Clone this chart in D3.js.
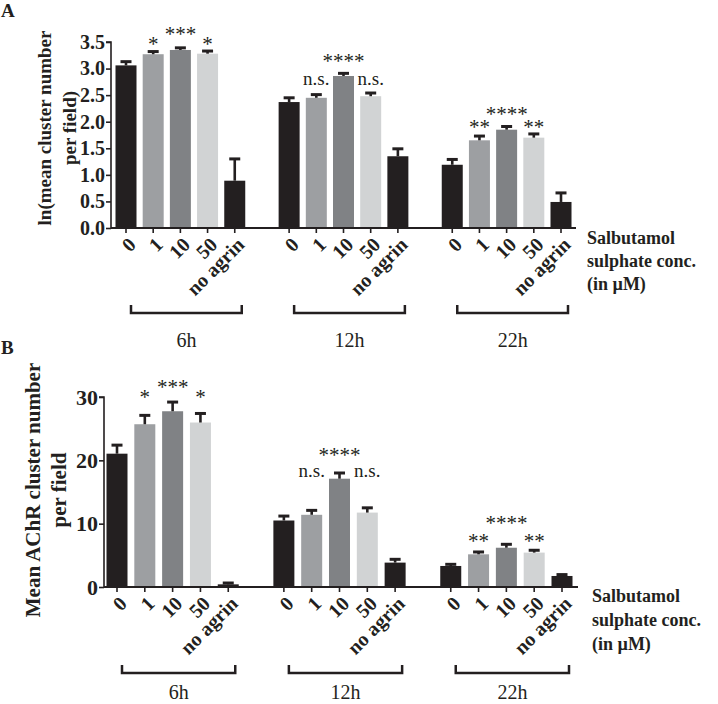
<!DOCTYPE html>
<html><head><meta charset="utf-8">
<script src="https://cdn.jsdelivr.net/npm/d3@7"></script>
<style>body{margin:0;background:#fff}svg{display:block}text{font-family:"Liberation Serif","Times New Roman",serif;fill:#231f20}</style>
</head><body><svg id="c" width="718" height="704"></svg>
<script>
// ---- data ----
const groups = ["6h", "12h", "22h"];
const concentrations = ["0", "1", "10", "50", "no agrin"];
const barColors = ["#231f20", "#9d9fa2", "#808285", "#d1d3d4", "#231f20"];

// Panel A: ln(mean cluster number per field)
const meanA = [3.06, 3.27, 3.35, 3.28, 0.89,  2.37, 2.45, 2.86, 2.48, 1.35,  1.19, 1.65, 1.85, 1.70, 0.49];
const errA  = [0.07, 0.05, 0.04, 0.05, 0.41,  0.08, 0.06, 0.05, 0.06, 0.14,  0.10, 0.08, 0.06, 0.07, 0.17];
const ticksA = [0, 0.5, 1.0, 1.5, 2.0, 2.5, 3.0, 3.5];

// Panel B: mean AChR cluster number per field
const meanB = [21.05, 25.7, 27.75, 25.97, 0.42,  10.5, 11.4, 17.1, 11.75, 3.85,  3.32, 5.16, 6.2, 5.43, 1.74];
const errB  = [1.35, 1.4, 1.45, 1.43, 0.21,  0.7, 0.7, 0.9, 0.75, 0.52,  0.26, 0.37, 0.54, 0.37, 0.22];
const ticksB = [0, 10, 20, 30];

// significance labels (bar index, text, level in data units)
const sigIndex = [1, 2, 3, 6, 7, 8, 11, 12, 13];
const sigText  = ["*", "***", "*", "n.s.", "****", "n.s.", "**", "****", "**"];
const sigLevelA = [3.35, 3.54, 3.35, 2.69, 3.03, 2.69, 1.79, 2.03, 1.79];
const sigLevelB = [29.13, 30.71, 29.13, 17.37, 19.82, 17.37, 6.39, 9.08, 6.39];

const xTitle = ["Salbutamol", "sulphate conc.", "(in \u00b5M)"];
const yTitleA = ["ln(mean cluster number", "per field)"];
const yTitleB = ["Mean AChR cluster number", "per field"];

// ---- drawing ----
const svg = d3.select("#c");

function panel(o) {
  const g = svg.append("g");
  const slots = [];
  groups.forEach((gr, gi) => concentrations.forEach((c, ci) => slots.push({g: gi, c: ci, slot: gi * 6 + ci})));
  const x = d3.scaleLinear().domain([0, 16]).range(o.xr);
  const y = d3.scaleLinear().domain(o.ydom).range([o.y0, o.ytop]);
  const bw = 21;

  // bars
  g.selectAll("rect.bar").data(slots).join("rect")
    .attr("x", d => x(d.slot) - bw / 2).attr("width", bw)
    .attr("y", (d, i) => y(o.mean[i])).attr("height", (d, i) => y(0) - y(o.mean[i]))
    .attr("fill", d => barColors[d.c]);

  // error bars
  const eb = g.selectAll("g.eb").data(slots).join("g");
  eb.append("line").attr("x1", d => x(d.slot)).attr("x2", d => x(d.slot))
    .attr("y1", (d, i) => y(o.mean[i])).attr("y2", (d, i) => y(o.mean[i] + o.err[i]))
    .attr("stroke", "#231f20").attr("stroke-width", 2.6);
  eb.append("line").attr("x1", d => x(d.slot) - 5.5).attr("x2", d => x(d.slot) + 5.5)
    .attr("y1", (d, i) => y(o.mean[i] + o.err[i])).attr("y2", (d, i) => y(o.mean[i] + o.err[i]))
    .attr("stroke", "#231f20").attr("stroke-width", 3);

  // y axis
  const ya = d3.axisLeft(y).tickValues(o.ticks).tickFormat(o.fmt).tickSize(5).tickPadding(1);
  const yg = g.append("g").attr("transform", `translate(${o.axisX},0)`).call(ya);
  yg.select(".domain").attr("stroke", "#231f20").attr("stroke-width", 1.6).attr("d", `M-5,${y(o.ticks[o.ticks.length-1])}H0V${y(0)}`);
  yg.selectAll(".tick line").attr("stroke", "#231f20").attr("stroke-width", 1.6);
  yg.selectAll(".tick text").attr("font-size", o.tickFs).attr("font-weight", "bold")
    .style("font-family", '"Liberation Serif",serif').attr("fill", "#231f20");

  // x axis
  g.append("line").attr("x1", o.axisX).attr("x2", o.xEnd).attr("y1", y(0)).attr("y2", y(0))
    .attr("stroke", "#231f20").attr("stroke-width", 2);
  g.selectAll("line.xt").data(slots).join("line")
    .attr("x1", d => x(d.slot)).attr("x2", d => x(d.slot)).attr("y1", y(0)).attr("y2", y(0) + 5)
    .attr("stroke", "#231f20").attr("stroke-width", 1.6);
  g.selectAll("text.xl").data(slots).join("text")
    .attr("transform", d => `translate(${x(d.slot) + 6},${y(0) + 13}) rotate(-45)`)
    .attr("text-anchor", "end").attr("dy", "0.35em")
    .attr("font-size", 20).attr("font-weight", "bold")
    .text(d => concentrations[d.c]);

  // significance
  g.selectAll("text.sig").data(sigIndex).join("text")
    .attr("x", d => x(slots[d].slot)).attr("y", (d, i) => y(o.sig[i]) + (sigText[i][0] === "*" ? 1 : 0))
    .attr("text-anchor", "middle")
    .attr("font-size", (d, i) => sigText[i][0] === "*" ? 21 : 19)
    .text((d, i) => sigText[i]);

  // brackets
  groups.forEach((gr, gi) => {
    const x1 = x(gi * 6) + 5, x2 = x(gi * 6 + 4) + 7;
    g.append("path").attr("d", `M${x1},${o.brY - 8}V${o.brY}H${x2}V${o.brY - 8}`)
      .attr("fill", "none").attr("stroke", "#231f20").attr("stroke-width", 2.5);
    g.append("text").attr("x", (x1 + x2) / 2).attr("y", o.brLabY).attr("text-anchor", "middle")
      .attr("font-size", 20).text(gr);
  });

  // x title
  const xt = g.append("text").attr("x", o.xtX).attr("font-size", 18).attr("font-weight", "bold");
  xTitle.forEach((t, i) => xt.append("tspan").attr("x", o.xtX).attr("y", o.xtY + i * o.xtLH).text(t));

  // y title
  const yt = g.append("text").attr("transform", `translate(${o.ytX},${o.ytY}) rotate(-90)`)
    .attr("text-anchor", "middle").attr("font-size", o.ytFs).attr("font-weight", "bold");
  o.ytitle.forEach((t, i) => yt.append("tspan").attr("x", 0).attr("y", i * o.ytLH).text(t));

  // panel letter
  g.append("text").attr("x", 1).attr("y", o.letterY).attr("font-size", 19).attr("font-weight", "bold").text(o.letter);
}

panel({letter: "A", letterY: 17, mean: meanA, err: errA, sig: sigLevelA, ticks: ticksA, fmt: d3.format(".1f"),
  ydom: [0, 3.5], y0: 228, ytop: 42, xr: [126, 561], axisX: 111, xEnd: 576, tickFs: 20,
  brY: 313, brLabY: 347, xtX: 587, xtY: 244, xtLH: 23,
  ytitle: yTitleA, ytX: 51, ytY: 128, ytFs: 19, ytLH: 25});

panel({letter: "B", letterY: 354, mean: meanB, err: errB, sig: sigLevelB, ticks: ticksB, fmt: d3.format("d"),
  ydom: [0, 30], y0: 587, ytop: 397, xr: [117, 562], axisX: 104, xEnd: 578, tickFs: 22,
  brY: 673, brLabY: 699, xtX: 592, xtY: 602, xtLH: 24,
  ytitle: yTitleB, ytX: 40, ytY: 490, ytFs: 21, ytLH: 26});
</script></body></html>
